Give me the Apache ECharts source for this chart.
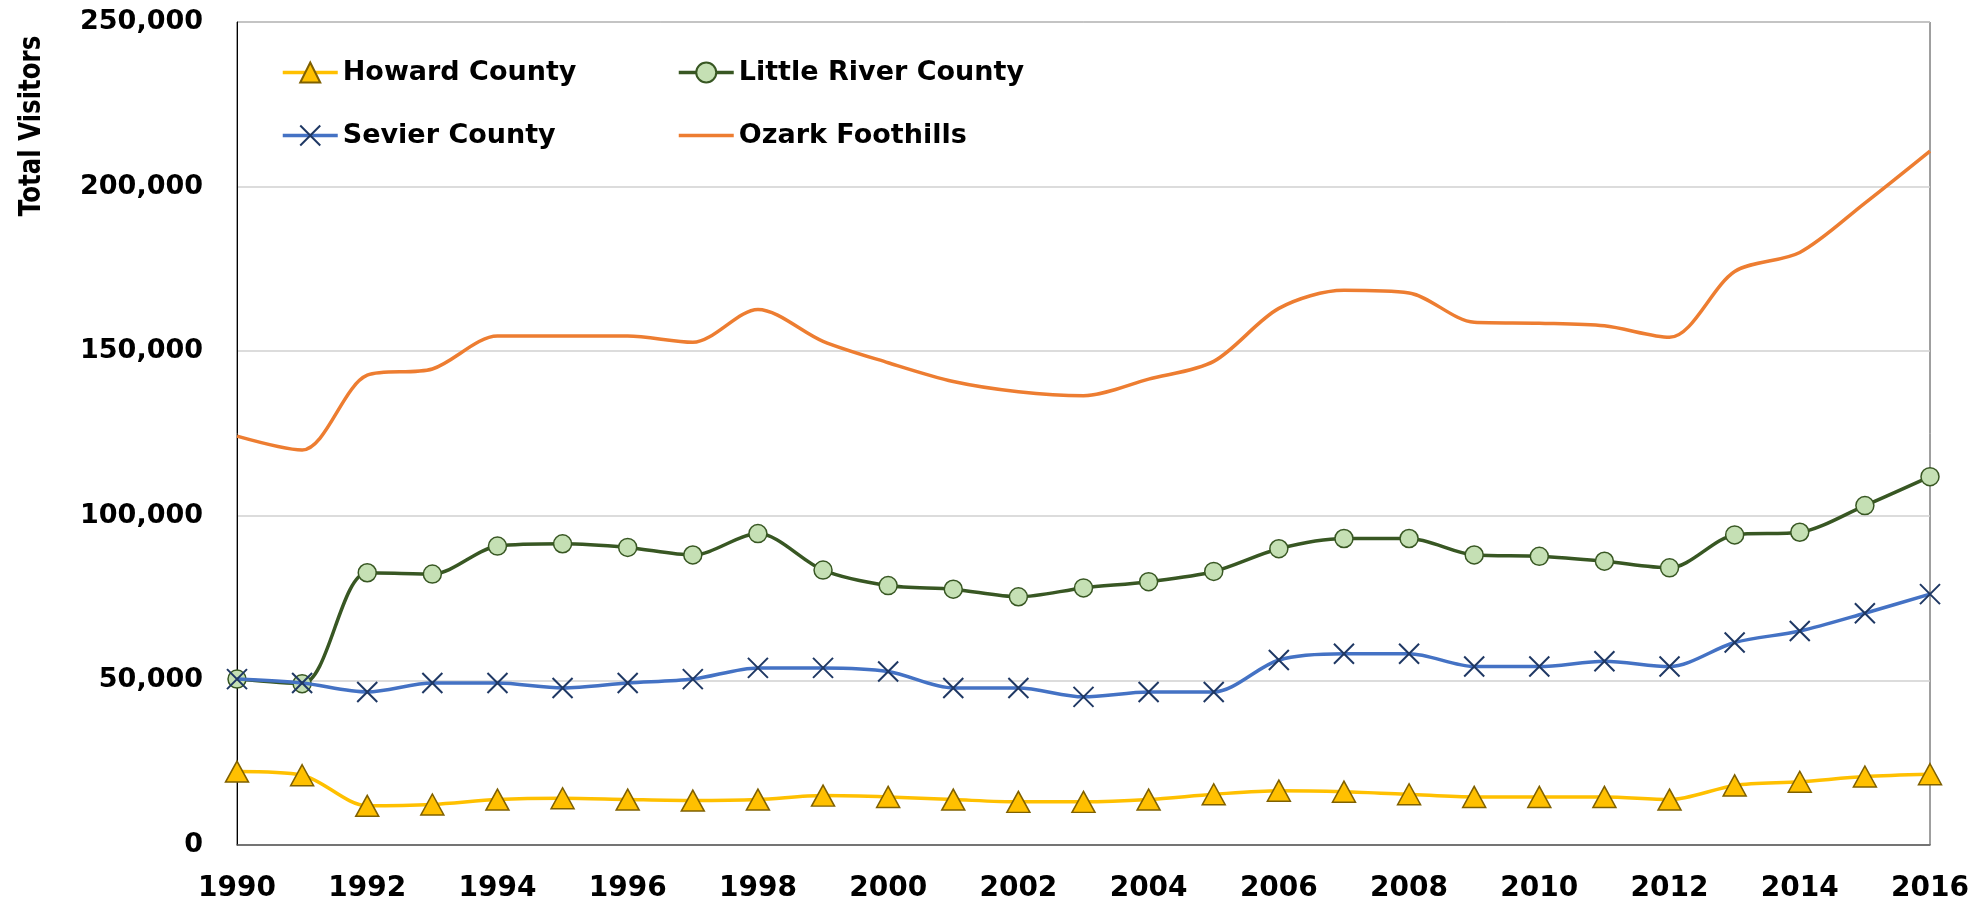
<!DOCTYPE html>
<html>
<head>
<meta charset="utf-8">
<script src="https://cdn.jsdelivr.net/npm/echarts@6/dist/echarts.min.js"></script>
<style>
  html, body { margin: 0; padding: 0; background: #fff; }
  #chart { width: 1983px; height: 909px; }
</style>
</head>
<body>
<div id="chart"></div>
<script>
// years on the x axis
const years = [];
for (let y = 1990; y <= 2016; y++) years.push(String(y));

// visitors per year
const howard = [22300, 21200, 11900, 12300, 13800, 14200, 13800, 13500, 13800, 15000,
  14600, 13800, 13100, 13100, 13800, 15400, 16500, 16200, 15400, 14600,
  14600, 14600, 13800, 18100, 19200, 20800, 21500];
const littleRiver = [50400, 49000, 82700, 82300, 90800, 91500, 90400, 88100, 94600, 83500,
  78800, 77700, 75400, 78100, 80000, 83100, 90000, 93100, 93100, 88100,
  87700, 86200, 84200, 94200, 95000, 103100, 111900];
const sevier = [50400, 49200, 46500, 49200, 49200, 47700, 49200, 50400, 53800, 53800,
  52700, 47700, 47700, 45000, 46500, 46500, 56200, 58100, 58100, 54200,
  54200, 55800, 54200, 61500, 65000, 70400, 76200];
const ozark = [124200, 120000, 142700, 144600, 154600, 154600, 154600, 152700, 162700, 153000,
  146500, 140800, 137700, 136500, 141500, 146900, 163000, 168500, 167700, 158800,
  158500, 157700, 154200, 174200, 180000, 195000, 210800];

const font = '"DejaVu Sans", sans-serif';
const xMark = 'path://M0,0 L10,10 M10,0 L0,10';

const chart = echarts.init(document.getElementById('chart'));

const legendText = { fontFamily: font, fontWeight: 'bold', fontSize: 27, color: '#000' };

chart.setOption({
  animation: false,
  backgroundColor: '#fff',
  grid: {
    left: 237, right: 53, top: 22, bottom: 64,
    show: true, borderColor: '#404040', borderWidth: 1
  },
  legend: [
    {
      data: ['Howard County', 'Sevier County'],
      orient: 'vertical', left: 276, top: 54, itemGap: 36,
      itemWidth: 55, itemHeight: 25,
      lineStyle: { width: 3.5 },
      textStyle: legendText
    },
    {
      data: ['Little River County', { name: 'Ozark Foothills', itemStyle: { opacity: 0 } }],
      orient: 'vertical', left: 672, top: 54, itemGap: 36,
      itemWidth: 55, itemHeight: 25,
      lineStyle: { width: 3.5 },
      textStyle: legendText
    }
  ],
  graphic: [{
    type: 'text', x: 32, y: 126, rotation: Math.PI / 2, scaleY: 1.25,
    style: {
      text: 'Total Visitors', fontFamily: font, fontWeight: 'bold', fontSize: 24.5,
      fill: '#000', textAlign: 'center', textVerticalAlign: 'middle'
    }
  }],
  xAxis: {
    type: 'category',
    data: years,
    boundaryGap: false,
    axisLine: { lineStyle: { color: '#595959', width: 1.5 } },
    axisTick: { show: false },
    axisLabel: {
      interval: 1, margin: 30,
      fontFamily: font, fontWeight: 'bold', fontSize: 28, color: '#000'
    }
  },
  yAxis: {
    type: 'value',
    min: 0, max: 250000, interval: 50000,
    axisLine: { show: true, lineStyle: { color: '#000', width: 1 } },
    axisTick: { show: false },
    splitLine: { lineStyle: { color: '#d0d0d0', width: 1.5 } },
    axisLabel: {
      margin: 34,
      fontFamily: font, fontWeight: 'bold', fontSize: 27, color: '#000',
      formatter: v => v.toLocaleString('en-US')
    }
  },
  series: [
    {
      name: 'Howard County', type: 'line', data: howard, smooth: 0.3,
      symbol: 'triangle', symbolSize: [23, 21],
      lineStyle: { color: '#FFC000', width: 3.5 },
      itemStyle: { color: '#FFC000', borderColor: '#7F6000', borderWidth: 1.5 },
      z: 4
    },
    {
      name: 'Little River County', type: 'line', data: littleRiver, smooth: 0.3,
      symbol: 'circle', symbolSize: 18,
      lineStyle: { color: '#385723', width: 3.5 },
      itemStyle: { color: '#C5E0B4', borderColor: '#385723', borderWidth: 1.5 },
      z: 3
    },
    {
      name: 'Sevier County', type: 'line', data: sevier, smooth: 0.3,
      symbol: xMark, symbolSize: 20,
      lineStyle: { color: '#4472C4', width: 3.5 },
      itemStyle: { color: '#1F3864', borderColor: '#1F3864', borderWidth: 2 },
      z: 5
    },
    {
      name: 'Ozark Foothills', type: 'line', data: ozark, smooth: 0.3,
      symbol: 'none',
      lineStyle: { color: '#ED7D31', width: 3.5 },
      itemStyle: { color: '#ED7D31' },
      z: 2
    }
  ]
});
</script>
</body>
</html>
